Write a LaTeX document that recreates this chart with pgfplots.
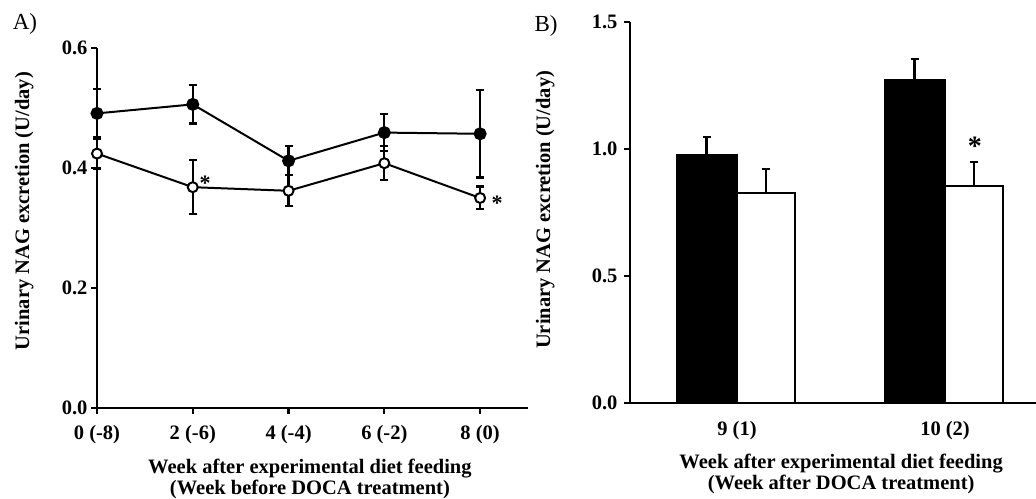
\documentclass[border=0pt]{standalone}
\usepackage{pgfplots}
\pgfplotsset{compat=1.18}
\usepackage{fontspec}
\setmainfont{Liberation Serif}
\newcommand\lab{\fontsize{20.5bp}{21bp}\selectfont\bfseries}
\begin{document}
\begin{tikzpicture}[x=1bp,y=1bp]
\path[use as bounding box] (0,0) rectangle (1036,499);
\node[font=\fontsize{23bp}{23bp}\selectfont] at (25,475) {A)};
\node[font=\fontsize{23bp}{23bp}\selectfont] at (546,473) {B)};
\pgfplotsset{
  myax/.style={
    scale only axis, clip=false,
    axis lines*=left,
    axis line style={line width=2.8bp, black},
    tick align=outside, major tick length=6bp,
    tick style={line width=2.2bp, black},
    ticklabel style={font=\lab},
    xlabel style={font=\lab, align=center, anchor=center},
    ylabel style={font=\lab, anchor=center},
  },
  myerr/.style={
    /pgfplots/error bars/error bar style={line width=2.2bp, black},
    /pgfplots/error bars/error mark options={rotate=90, line width=2.2bp, mark size=4bp, black}},
}
\begin{axis}[myax,
  at={(97bp,91bp)}, anchor=south west,
  width=431bp, height=360bp,
  xmin=0, xmax=9, ymin=0, ymax=0.6,
  xtick={0,2,4,6,8}, xticklabels={0 (-8),2 (-6),4 (-4),6 (-2),8 (0)},
  xticklabel style={yshift=-8bp},
  ytick={0,0.2,0.4,0.6}, yticklabels={0.0,0.2,0.4,0.6},
  xlabel={Week after experimental diet feeding\\(Week before DOCA treatment)},
  xlabel style={at={(axis description cs:0.494,-0.197)}},
  ylabel={Urinary NAG excretion (U/day)},
  ylabel style={at={(axis description cs:-0.169,0.547)}},
]
\addplot[black, line width=2bp, mark=*, mark size=5.5bp, mark options={fill=black, solid},
  myerr, error bars/.cd, y dir=both, y explicit]
  coordinates {(0,0.491) +- (0,0.040) (2,0.506) +- (0,0.032) (4,0.412) +- (0,0.024) (6,0.459) +- (0,0.031) (8,0.457) +- (0,0.073)};
\addplot[black, line width=2bp, mark=*, mark size=5bp, mark options={fill=white, draw=black, line width=2bp, solid},
  myerr, error bars/.cd, y dir=both, y explicit]
  coordinates {(0,0.424) +- (0,0.025) (2,0.368) +- (0,0.045) (4,0.362) +- (0,0.026) (6,0.408) +- (0,0.028) (8,0.350) +- (0,0.019)};
\node[font=\fontsize{22bp}{22bp}\selectfont\bfseries] at (axis cs:2.256,0.374) {*};
\node[font=\fontsize{22bp}{22bp}\selectfont\bfseries] at (axis cs:8.355,0.341) {*};
\end{axis}
\begin{axis}[myax,
  at={(630bp,96bp)}, anchor=south west,
  width=406bp, height=381bp,
  xmin=0.4856, xmax=2.4375, ymin=0, ymax=1.5,
  xtick={1,2}, xticklabels={9 (1),10 (2)},
  xticklabel style={yshift=-9bp},
  yticklabel style={xshift=-3bp},
  major x tick style={draw=none},
  ytick={0,0.5,1,1.5}, yticklabels={0.0,0.5,1.0,1.5},
  xlabel={Week after experimental diet feeding\\(Week after DOCA treatment)},
  xlabel style={at={(axis description cs:0.52,-0.186)}},
  ylabel={Urinary NAG excretion (U/day)},
  ylabel style={at={(axis description cs:-0.209,0.507)}},
]
\addplot[ybar, bar width=61bp, bar shift=0bp, fill=black, draw=black, line width=1bp,
  myerr, error bars/.cd, y dir=plus, y explicit]
  coordinates {(0.8534,0.980) +- (0,0.068) (1.8534,1.272) +- (0,0.081)};
\addplot[ybar, bar width=58bp, bar shift=0bp, fill=white, draw=black, line width=2bp,
  myerr, error bars/.cd, y dir=plus, y explicit]
  coordinates {(1.1394,0.826) +- (0,0.095) (2.1394,0.856) +- (0,0.094)};
\node[font=\fontsize{28bp}{28bp}\selectfont\bfseries] at (axis cs:2.144,1.012) {*};
\end{axis}
\end{tikzpicture}
\end{document}
